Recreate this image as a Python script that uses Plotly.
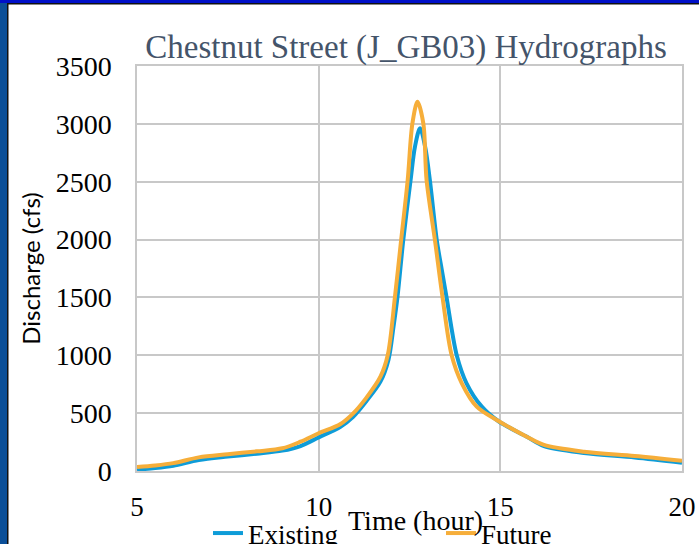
"""
Chestnut Street (J_GB03) hydrographs: existing vs future discharge.
"""
import plotly.graph_objects as go

# time (hour) and discharge (cfs)
t_existing = [5.0, 5.5, 6.0, 6.7, 7.5, 8.3, 9.0, 9.5, 10.0, 10.6, 10.95, 11.3, 11.7,
              11.92, 12.06, 12.17, 12.33, 12.53, 12.65, 12.79, 12.93, 13.06, 13.25,
              13.39, 13.52, 13.8, 14.07, 14.49, 14.95, 15.73, 16.2, 17.3, 18.7, 20.0]
q_existing = [12, 25, 45, 95, 125, 150, 176, 216, 291, 383, 469, 599, 772,
              960, 1247, 1506, 2000, 2514, 2802, 2961, 2802, 2514, 1996,
              1737, 1500, 1000, 758, 556, 430, 296, 215, 156, 117, 72]

t_future = [5.0, 5.5, 6.0, 6.7, 7.5, 8.3, 9.0, 9.5, 10.0, 10.6, 10.95, 11.3, 11.7,
            11.9, 12.1, 12.27, 12.45, 12.58, 12.72, 12.88, 12.97, 13.2, 13.41,
            13.66, 13.94, 14.35, 14.9, 15.73, 16.2, 17.3, 18.7, 20.0]
q_future = [35, 48, 68, 118, 145, 170, 196, 253, 326, 406, 498, 628, 815,
            1000, 1506, 1996, 2514, 3004, 3191, 3004, 2514, 1996, 1500,
            1000, 758, 556, 441, 296, 225, 167, 130, 89]

x_ticks = [5, 10, 15, 20]
y_ticks = [0, 500, 1000, 1500, 2000, 2500, 3000, 3500]

W, H = 699, 544
L, R, T, B = 137, 17, 66, 73
PW, PH = W - L - R, H - T - B

SERIF = "Liberation Serif"
GRID = "#C8C8C8"
TEXT = dict(family=SERIF, size=27, color="#000000")


def px_x(px):
    return (px - L) / PW


def px_y(py):
    return (H - B - py) / PH


fig = go.Figure()
fig.add_trace(go.Scatter(
    x=t_existing, y=q_existing, name="Existing", mode="lines", legend="legend",
    line=dict(color="#0E9CD8", width=4, shape="spline", smoothing=0.9),
))
fig.add_trace(go.Scatter(
    x=t_future, y=q_future, name="Future", mode="lines", legend="legend2",
    line=dict(color="#F6AE3A", width=4, shape="spline", smoothing=0.9),
))

# slide frame: blue bars on the left and top edges
frame = [
    dict(x0=px_x(0), x1=px_x(7), y0=px_y(H), y1=px_y(0), fillcolor="#0B4F98"),
    dict(x0=px_x(7), x1=px_x(8.5), y0=px_y(H), y1=px_y(3), fillcolor="#111111"),
    dict(x0=px_x(0), x1=px_x(W), y0=px_y(3), y1=px_y(0), fillcolor="#0010C8"),
    dict(x0=px_x(7), x1=px_x(W), y0=px_y(4.5), y1=px_y(3), fillcolor="#111111"),
]
for s in frame:
    fig.add_shape(type="rect", xref="paper", yref="paper", line_width=0, layer="above", **s)

# x-axis title sits closer to the tick labels than plotly's axis title allows
fig.add_annotation(
    text="Time (hour)", xref="paper", yref="paper",
    x=px_x(415), y=px_y(520), xanchor="center", yanchor="middle",
    showarrow=False, font=dict(family=SERIF, size=28, color="#000000"),
)

legend_common = dict(
    orientation="h", yanchor="top", y=px_y(509), xanchor="left",
    itemwidth=30, font=TEXT, bgcolor="rgba(0,0,0,0)",
)

fig.update_layout(
    width=W, height=H,
    margin=dict(l=L, r=R, t=T, b=B, autoexpand=False),
    paper_bgcolor="white",
    plot_bgcolor="white",
    font=TEXT,
    showlegend=True,
    title=dict(
        text="Chestnut Street (J_GB03) Hydrographs",
        font=dict(family=SERIF, size=33, color="#44546A"),
        x=px_x(406), xref="paper", xanchor="center",
        y=1 - 46 / H, yref="container", yanchor="middle",
    ),
    xaxis=dict(
        range=[5, 20], tickvals=x_ticks, showgrid=True, gridcolor=GRID, gridwidth=1.5,
        showline=True, linecolor=GRID, linewidth=1.5, mirror=True, zeroline=False,
        ticks="", ticklabelstandoff=11, automargin=False, tickfont=TEXT,
    ),
    yaxis=dict(
        range=[0, 3500], tickvals=y_ticks, showgrid=True, gridcolor=GRID, gridwidth=1.5,
        showline=True, linecolor=GRID, linewidth=1.5, mirror=True, zeroline=False,
        ticks="", ticklabelstandoff=18, automargin=False,
        tickfont=dict(family=SERIF, size=28, color="#000000"),
        title=dict(text="Discharge (cfs)", standoff=8,
                   font=dict(family="Lato", size=24, color="#000000")),
    ),
    legend=dict(x=px_x(208), visible=True, **legend_common),
    legend2=dict(x=px_x(441), visible=True, **legend_common),
)

# drop the browser's default body margin so the figure sits at the page corner
fig.write_html(
    "out.html",
    config={"displayModeBar": False},
    post_script="document.body.style.margin = '0';",
)
